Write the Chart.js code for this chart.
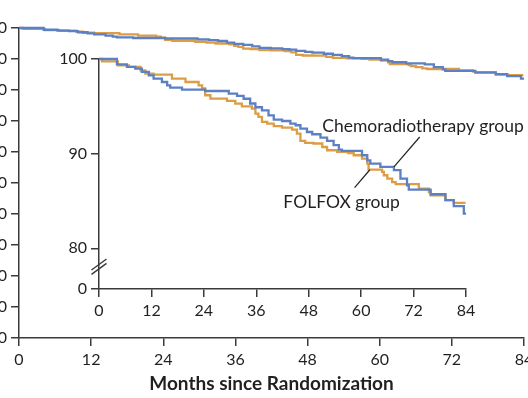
<!DOCTYPE html>
<html>
<head>
<meta charset="utf-8">
<script src="https://cdn.jsdelivr.net/npm/chart.js@4.4.1/dist/chart.umd.min.js"></script>
<style>
  html, body { margin: 0; padding: 0; background: #fff; width: 528px; height: 398px; overflow: hidden; }
  #outer { position: absolute; left: -30px; top: 0; }
  #inset { position: absolute; left: 0; top: 0; }
</style>
</head>
<body>
<canvas id="outer" width="588" height="398"></canvas>
<canvas id="inset" width="528" height="398"></canvas>
<script>
// Kaplan-Meier steps (months, percent surviving)
const chemoMonths = [0, 4.1, 6.4, 8.3, 9.8, 11.4, 12.5, 14.4, 15.6, 16.3, 19.0, 24.3, 29.7, 31.6, 33.1, 34.6, 35.8, 37.3, 38.8, 40.0, 41.9, 43.8, 45.0, 46.1, 47.6, 48.8, 50.7, 52.2, 53.7, 54.9, 55.6, 60.2, 61.4, 62.1, 64.4, 67.5, 69.0, 70.5, 70.9, 75.9, 79.3, 81.2, 83.5, 84];
const chemoPct = [100, 99.44, 99.16, 98.99, 98.63, 98.28, 97.93, 97.57, 97.22, 96.98, 96.77, 96.62, 96.35, 96.1, 95.8, 95.3, 94.9, 94.58, 94.05, 93.6, 93.45, 93.18, 93.0, 92.65, 92.29, 92.05, 91.7, 91.34, 90.9, 90.43, 90.3, 89.83, 89.3, 88.95, 88.6, 88.25, 87.37, 86.66, 86.2, 85.71, 85.08, 84.45, 83.67, 83.67];

const folfoxMonths = [0, 0.7, 4.3, 6.8, 9.5, 10.6, 12.5, 16.7, 19.8, 22.8, 23.6, 24.3, 25.5, 29.3, 31.2, 32.7, 35.0, 35.8, 36.5, 37.3, 38.5, 40.0, 41.9, 44.2, 45.3, 46.1, 47.2, 49.1, 51.1, 52.2, 54.5, 57.0, 58.3, 60.2, 61.4, 61.7, 64.8, 65.2, 66.0, 67.1, 67.9, 73.2, 75.5, 75.9, 79.3, 81.2, 83.9];
const folfoxPct = [100, 99.75, 99.33, 99.16, 98.8, 98.46, 98.35, 97.93, 97.57, 97.22, 96.9, 96.17, 95.82, 95.57, 95.29, 95.0, 94.76, 94.23, 93.88, 93.35, 93.18, 92.9, 92.76, 92.54, 92.12, 91.34, 91.13, 91.07, 90.7, 90.36, 90.18, 90.07, 89.83, 89.48, 88.95, 88.32, 88.07, 87.72, 87.37, 87.0, 86.77, 86.3, 85.95, 85.6, 85.08, 84.8, 84.8];

const monthTicks = [0, 12, 24, 36, 48, 60, 72, 84];
const outerPctTicks = [0, 10, 20, 30, 40, 50, 60, 70, 80, 90, 100];
const insetPctTicks = [80, 90, 100];
const insetBreakLabel = '0';
const insetYMin = 75.7;

const BLUE = '#5b80c3';
const ORANGE = '#dc9d45';
const INK = '#231f20';
const AXIS = '#3a3a3a';

Chart.defaults.font.family = 'Lato';
Chart.defaults.color = INK;

function series(months, pct) {
    return months.map((m, i) => ({ x: m, y: pct[i] }));
}

function makeDatasets() {
    const common = { borderWidth: 2.3, pointRadius: 0, stepped: true, fill: false, clip: 6 };
    return [
        Object.assign({ label: 'Chemoradiotherapy group', data: series(chemoMonths, chemoPct), borderColor: BLUE }, common),
        Object.assign({ label: 'FOLFOX group', data: series(folfoxMonths, folfoxPct), borderColor: ORANGE }, common)
    ];
}

function axisStyle() {
    return {
        grid: { drawOnChartArea: false, drawTicks: true, tickLength: 8, color: AXIS, lineWidth: 1.5 },
        border: { display: true, color: AXIS, width: 1.5 }
    };
}

// big chart, 0-100 scale
new Chart(document.getElementById('outer'), {
    type: 'line',
    data: { datasets: makeDatasets() },
    options: {
        responsive: false,
        animation: false,
        devicePixelRatio: 1,
        layout: { padding: { left: 0, top: 28, right: 34, bottom: 0 } },
        plugins: { legend: { display: false }, tooltip: { enabled: false } },
        scales: {
            x: Object.assign({
                type: 'linear', min: 0, max: 84,
                afterBuildTicks: s => { s.ticks = monthTicks.map(v => ({ value: v })); },
                afterFit: s => { s.height = 60; },
                ticks: { font: { size: 16 }, color: INK, padding: 4, maxRotation: 0, autoSkip: false },
                title: { display: true, text: 'Months since Randomization', color: INK,
                         font: { size: 19, weight: 'bold' }, padding: { top: 0, bottom: 3 } }
            }, axisStyle()),
            y: Object.assign({
                type: 'linear', min: 0, max: 100,
                afterBuildTicks: s => { s.ticks = outerPctTicks.map(v => ({ value: v })); },
                afterFit: s => { s.width = 49; },
                ticks: { font: { size: 16 }, color: INK, padding: 4 }
            }, axisStyle())
        }
    }
});

// labels, leader lines and the axis break of the inset
const notes = [
    { text: 'Chemoradiotherapy group', at: [51.1, 92.29], leader: [[73.4, 91.76], [67.5, 88.6]] },
    { text: 'FOLFOX group', at: [42.2, 84.31], leader: [[58.5, 86.4], [62.0, 88.3]] }
];
const breakAt = 78.06;

const insetExtras = {
    id: 'insetExtras',
    afterDraw(chart) {
        const { ctx, chartArea } = chart;
        const xs = chart.scales.x, ys = chart.scales.y;
        ctx.save();
        ctx.fillStyle = INK;
        ctx.strokeStyle = '#222';
        ctx.font = '17.5px Lato';
        ctx.textBaseline = 'alphabetic';
        ctx.textAlign = 'left';
        notes.forEach(n => {
            ctx.fillText(n.text, xs.getPixelForValue(n.at[0]), ys.getPixelForValue(n.at[1]));
            ctx.lineWidth = 1.2;
            ctx.beginPath();
            ctx.moveTo(xs.getPixelForValue(n.leader[0][0]), ys.getPixelForValue(n.leader[0][1]));
            ctx.lineTo(xs.getPixelForValue(n.leader[1][0]), ys.getPixelForValue(n.leader[1][1]));
            ctx.stroke();
        });
        // double slash on the y axis
        const cx = chartArea.left, cy = ys.getPixelForValue(breakAt);
        ctx.strokeStyle = AXIS;
        ctx.lineWidth = 1.4;
        [-2.2, 2.2].forEach(off => {
            ctx.beginPath();
            ctx.moveTo(cx - 7.5, cy + off + 5.5);
            ctx.lineTo(cx + 7.5, cy + off - 5.5);
            ctx.stroke();
        });
        ctx.restore();
    }
};

new Chart(document.getElementById('inset'), {
    type: 'line',
    data: { datasets: makeDatasets() },
    plugins: [insetExtras],
    options: {
        responsive: false,
        animation: false,
        devicePixelRatio: 1,
        layout: { padding: { left: 0, top: 59, right: 62, bottom: 79 } },
        plugins: { legend: { display: false }, tooltip: { enabled: false } },
        scales: {
            x: Object.assign({
                type: 'linear', min: 0, max: 84,
                afterBuildTicks: s => { s.ticks = monthTicks.map(v => ({ value: v })); },
                afterFit: s => { s.height = 30; },
                ticks: { font: { size: 16 }, color: INK, padding: 4, maxRotation: 0, autoSkip: false }
            }, axisStyle()),
            y: Object.assign({
                type: 'linear', min: insetYMin, max: 100,
                afterBuildTicks: s => { s.ticks = [insetYMin].concat(insetPctTicks).map(v => ({ value: v })); },
                afterFit: s => { s.width = 99; },
                ticks: { font: { size: 16 }, color: INK, padding: 4,
                         callback: v => (v < insetPctTicks[0] ? insetBreakLabel : String(v)) }
            }, axisStyle())
        }
    }
});
</script>
</body>
</html>
